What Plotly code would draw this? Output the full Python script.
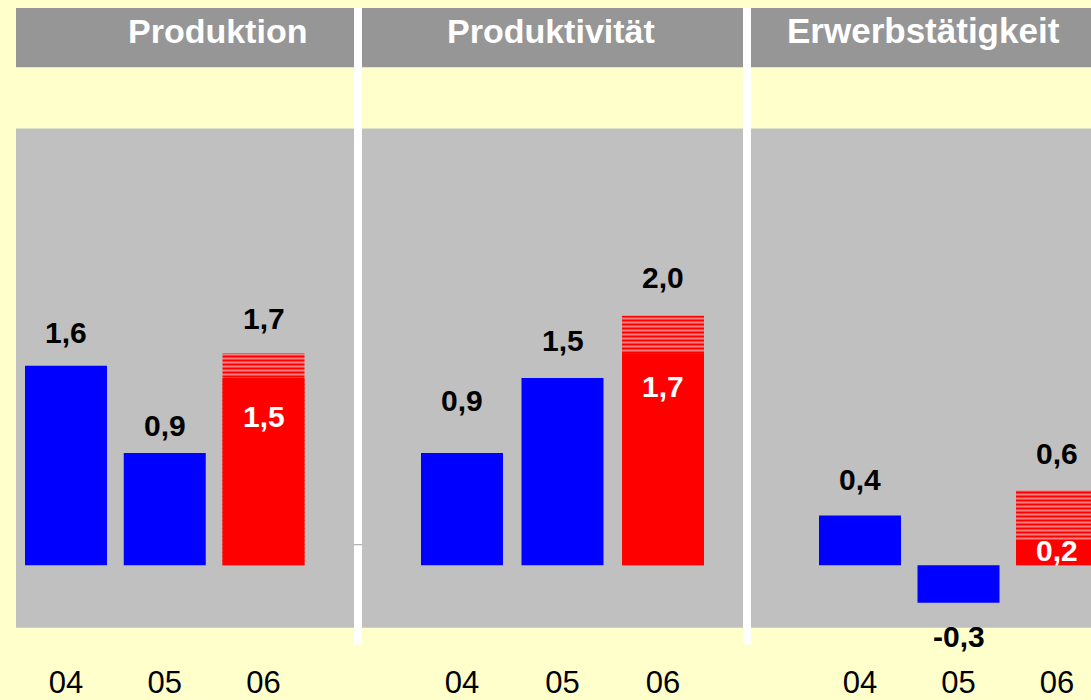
import plotly.graph_objects as go

# ---- data ----
years = ["04", "05", "06"]
panel_titles = ["Produktion", "Produktivität", "Erwerbstätigkeit"]
produktion = [1.6, 0.9, 1.7]
produktivitaet = [0.9, 1.5, 2.0]
erwerbstaetigkeit = [0.4, -0.3, 0.6]
# solid (lower) part of the 2006 forecast bars
basis_06 = [1.5, 1.7, 0.2]

# ---- style ----
W, H = 1091, 700
YELLOW = "#FFFFCC"
PANEL_GRAY = "#C0C0C0"
TITLE_GRAY = "#969696"
BLUE = "#0000FF"
RED = "#FF0000"
FONT = "Liberation Sans, Arial, sans-serif"

def fx(x):
    return x / W

def fy(y):
    return 1 - y / H

# pixel geometry of panels: (left, right, center of first bar, center of third bar)
geo = [(16, 354, 66, 263.5), (362, 743, 462, 663), (751, 1091, 860, 1057)]
title_cx = [217.5, 551, 923]
title_size = [34, 34, 35]
# label offsets in pixels (above bar end, positive = up)
above_shift = [[33, 28, 35], [53, 38, 38], [36, -34, 37]]
inside_shift = [-38, -33, -10]

series = [produktion, produktivitaet, erwerbstaetigkeit]

fig = go.Figure()
annotations = []
shapes = []

for i in range(3):
    left, right, c0, c2 = geo[i]
    sp = (c2 - c0) / 2
    xr = [-(c0 - left) / sp, 2 + (right - c2) / sp]
    bw = 82 / sp
    xa = "x" if i == 0 else f"x{i+1}"
    ya = "y" if i == 0 else f"y{i+1}"
    vals = series[i]
    # blue actual bars
    fig.add_trace(go.Bar(x=[0, 1], y=vals[:2], width=bw, marker=dict(color=BLUE, line=dict(width=0)),
                         xaxis=xa, yaxis=ya, hoverinfo="skip"))
    # striped total forecast bar
    fig.add_trace(go.Bar(x=[2], y=[vals[2]], width=bw,
                         marker=dict(color=RED, line=dict(width=0),
                                     pattern=dict(shape="-", fgcolor="#F29090", bgcolor=RED,
                                                  size=4, solidity=0.45, fillmode="replace")),
                         xaxis=xa, yaxis=ya, hoverinfo="skip"))
    # solid base of forecast
    fig.add_trace(go.Bar(x=[2], y=[basis_06[i]], width=bw, marker=dict(color=RED, line=dict(width=0)),
                         xaxis=xa, yaxis=ya, hoverinfo="skip"))

    axis_x = dict(domain=[fx(left), fx(right)], range=xr, showgrid=False, zeroline=False,
                  showline=False, ticks="", tickmode="array", tickvals=[0, 1, 2], ticktext=years,
                  tickfont=dict(family=FONT, size=31, color="black"), ticklabelstandoff=33,
                  fixedrange=True)
    axis_y = dict(domain=[fy(635), fy(130)], range=[-0.5, 3.5], showgrid=False, zeroline=False,
                  showline=False, showticklabels=False, ticks="", fixedrange=True)
    if i > 0:
        axis_y["anchor"] = xa
        axis_x["anchor"] = ya
    fig.layout[("xaxis" if i == 0 else f"xaxis{i+1}")] = axis_x
    fig.layout[("yaxis" if i == 0 else f"yaxis{i+1}")] = axis_y

    # value labels
    for j in range(3):
        v = vals[j]
        annotations.append(dict(x=j, y=v, xref=xa, yref=ya, text=f"<b>{v:.1f}</b>".replace(".", ","),
                                showarrow=False, yshift=above_shift[i][j], yanchor="middle",
                                xanchor="center",
                                font=dict(family=FONT, size=30, color="black")))
    b = basis_06[i]
    annotations.append(dict(x=2, y=b, xref=xa, yref=ya, text=f"<b>{b:.1f}</b>".replace(".", ","),
                            showarrow=False, yshift=inside_shift[i], yanchor="middle",
                            xanchor="center",
                            font=dict(family=FONT, size=30, color="white")))

    # title bar
    shapes.append(dict(type="rect", xref="paper", yref="paper", x0=fx(left), x1=fx(right),
                       y0=fy(68), y1=fy(8), fillcolor=TITLE_GRAY, line=dict(width=0), layer="below"))
    annotations.append(dict(x=fx(title_cx[i]), y=fy(31), xref="paper", yref="paper",
                            text=f"<b>{panel_titles[i]}</b>", showarrow=False, yanchor="middle",
                            xanchor="center",
                            font=dict(family=FONT, size=title_size[i], color="white")))

# white separators
for x0, x1 in [(354, 362), (743, 751)]:
    shapes.append(dict(type="rect", xref="paper", yref="paper", x0=fx(x0), x1=fx(x1),
                       y0=fy(652), y1=fy(8), fillcolor="white", line=dict(width=0), layer="above"))
shapes.append(dict(type="line", xref="paper", yref="paper", x0=fx(354), x1=fx(362),
                   y0=fy(551), y1=fy(551), line=dict(color="#A0A0A0", width=1), layer="above"))

fig.update_layout(width=W, height=H, margin=dict(l=0, r=0, t=0, b=0),
                  paper_bgcolor=YELLOW, plot_bgcolor=PANEL_GRAY, barmode="overlay",
                  showlegend=False, annotations=annotations, shapes=shapes,
                  font=dict(family=FONT))

fig.write_html("out.html", config={"displayModeBar": False},
               post_script="document.body.style.margin='0';")
